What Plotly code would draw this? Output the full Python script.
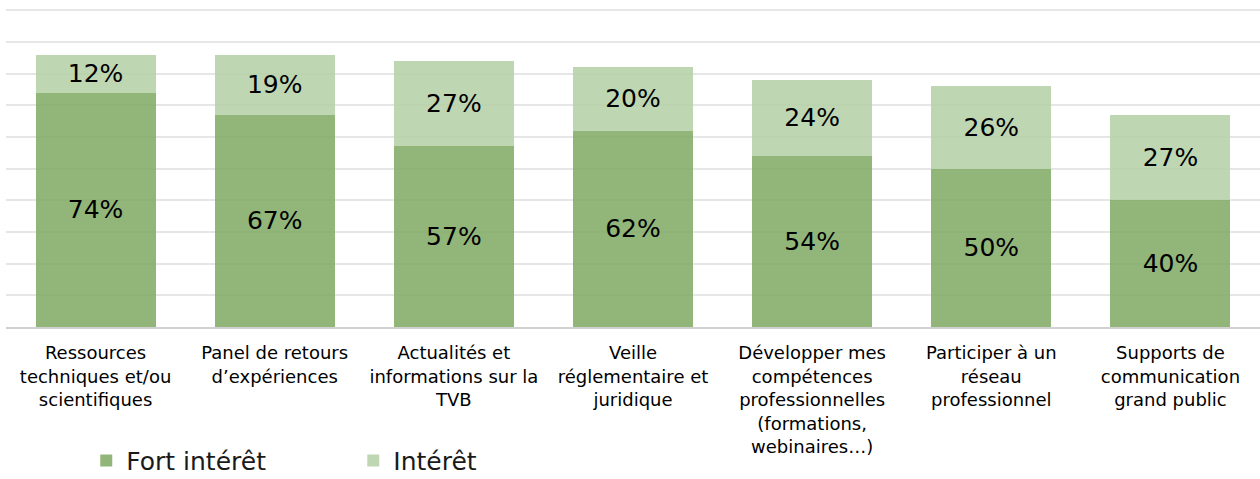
import plotly.graph_objects as go

categories = [
    "Ressources<br>techniques et/ou<br>scientifiques",
    "Panel de retours<br>d’expériences",
    "Actualités et<br>informations sur la<br>TVB",
    "Veille<br>réglementaire et<br>juridique",
    "Développer mes<br>compétences<br>professionnelles<br>(formations,<br>webinaires…)",
    "Participer à un<br>réseau<br>professionnel",
    "Supports de<br>communication<br>grand public",
]
fort_interet = [74, 67, 57, 62, 54, 50, 40]
interet = [12, 19, 27, 20, 24, 26, 27]

FONT = "DejaVu Sans, Verdana, sans-serif"

fig = go.Figure()
fig.add_trace(go.Bar(
    name="Fort intérêt", x=categories, y=fort_interet,
    marker=dict(color="rgba(127,168,98,0.85)", line=dict(width=0)),
    text=[f"{v}%" for v in fort_interet], textposition="inside",
    insidetextanchor="middle", textangle=0,
    textfont=dict(family=FONT, size=25, color="#000000"),
))
fig.add_trace(go.Bar(
    name="Intérêt", x=categories, y=interet,
    marker=dict(color="rgba(180,207,166,0.85)", line=dict(width=0)),
    text=[f"{v}%" for v in interet], textposition="inside",
    insidetextanchor="middle", textangle=0,
    textfont=dict(family=FONT, size=25, color="#000000"),
))

fig.update_layout(
    barmode="stack",
    bargap=0.33,
    width=1260, height=479,
    margin=dict(l=6, r=0, t=7, b=152, autoexpand=False),
    plot_bgcolor="white", paper_bgcolor="white",
    font=dict(family=FONT, color="#262626"),
    showlegend=True,
    legend=dict(
        orientation="h", x=0.064, xanchor="left", y=-0.418, yanchor="middle",
        font=dict(family=FONT, size=25, color="#1a1a1a"),
        entrywidth=222, entrywidthmode="pixels",
        itemsizing="constant", traceorder="normal",
    ),
    hovermode=False,
)
fig.update_xaxes(
    showline=True, linecolor="#d0d0d0", linewidth=1.5,
    tickfont=dict(family=FONT, size=18, color="#000000"),
    ticks="", showgrid=False, automargin=False, ticklabelstandoff=9,
)
fig.update_yaxes(
    range=[0, 101], dtick=10, showticklabels=False,
    showgrid=True, gridcolor="#e6e6e6", gridwidth=1.5,
    zeroline=False, fixedrange=True, automargin=False,
)

fig.write_html(
    "out.html",
    config={"displayModeBar": False},
    post_script="document.body.style.margin='0';document.body.style.overflow='hidden';",
)
